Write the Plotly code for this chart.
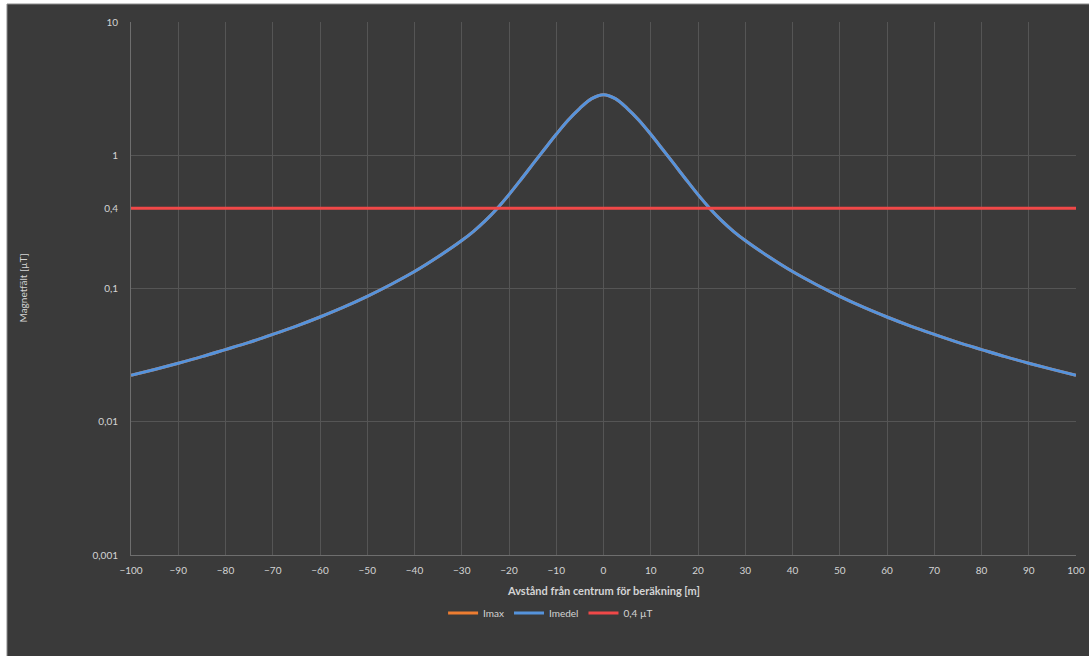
import plotly.graph_objects as go

# Distance from calculation centre [m]
distance = [-100, -95, -90, -85, -80, -75, -70, -65, -60, -55, -50, -45, -40, -35, -30, -27.5, -25, -22.5, -20,
            -17.5, -15, -12.5, -10, -7.5, -5, -2.5,
            0, 2.5, 5, 7.5, 10, 12.5, 15, 17.5, 20, 22.5, 25, 27.5, 30, 35, 40, 45, 50, 55, 60, 65, 70, 75, 80, 85,
            90, 95, 100]

# Imedel magnetic field [µT]
imedel = [0.0223, 0.0247, 0.0275, 0.0308, 0.0348, 0.0394, 0.0452, 0.0522, 0.0611, 0.0724, 0.0873, 0.1072, 0.134,
          0.173, 0.229, 0.2685, 0.323, 0.399, 0.506, 0.655, 0.853, 1.109, 1.436, 1.83, 2.25, 2.66,
          2.85, 2.66, 2.25, 1.83, 1.436, 1.109, 0.853, 0.655, 0.506, 0.399, 0.323, 0.2685, 0.229, 0.173, 0.134,
          0.1072, 0.0873, 0.0724, 0.0611, 0.0522, 0.0452, 0.0394, 0.0348, 0.0308, 0.0275, 0.0247, 0.0223]

# Imax coincides with Imedel (hidden underneath)
imax = list(imedel)

# 0,4 µT limit
limit_x = [-100, 100]
limit_y = [0.4, 0.4]

x_ticks = list(range(-100, 101, 10))
y_tickvals = [0.001, 0.01, 0.1, 0.4, 1, 10]
y_ticktext = ["0,001", "0,01", "0,1", "0,4", "1", "10"]

BG = "#3a3a3a"
GRID = "#555555"
TXT = "#d4d4d4"
FONT = "Lato"

fig = go.Figure()
fig.add_trace(go.Scatter(x=distance, y=imax, mode="lines", name="Imax",
                         line=dict(color="#ed7d31", width=3, shape="spline", smoothing=1.0)))
fig.add_trace(go.Scatter(x=distance, y=imedel, mode="lines", name="Imedel",
                         line=dict(color="#5593dc", width=3, shape="spline", smoothing=1.0)))
fig.add_trace(go.Scatter(x=limit_x, y=limit_y, mode="lines", name="0,4 µT",
                         line=dict(color="#f04848", width=3)))

fig.update_layout(
    width=1089, height=656,
    margin=dict(l=131, r=13, t=22, b=101, autoexpand=False),
    paper_bgcolor="white",
    plot_bgcolor="rgba(0,0,0,0)",
    font=dict(family=FONT, size=10, color=TXT),
    showlegend=True,
    legend=dict(orientation="h", x=0.444, xanchor="center", y=-0.109, yanchor="middle",
                font=dict(size=10, color=TXT), bgcolor="rgba(0,0,0,0)", traceorder="normal",
                itemwidth=30),
    shapes=[dict(type="rect", xref="paper", yref="paper",
                 x0=(7 - 131) / 945, x1=(1089 - 131) / 945 + 0.01,
                 y0=-(656 - 555) / 533 - 0.01, y1=1 + (22 - 4) / 533,
                 fillcolor=BG, line=dict(color="#8a8a8a", width=1), layer="below")],
    annotations=[
        dict(text="Magnetfält [µT]", xref="paper", yref="paper", x=(22 - 131) / 945, y=0.5,
             textangle=-90, showarrow=False, xanchor="center", yanchor="middle",
             font=dict(size=10, color=TXT, family=FONT)),
        dict(text="<b>Avstånd från centrum för beräkning [m]</b>", xref="paper", yref="paper",
             x=0.5, y=-(590 - 555) / 533, showarrow=False, xanchor="center", yanchor="middle",
             font=dict(size=11, color=TXT, family=FONT)),
    ],
)

fig.update_xaxes(range=[-100, 100], tickvals=x_ticks, showgrid=True, gridcolor=GRID, gridwidth=1,
                 zeroline=False, showline=True, linecolor="#6e6e6e", linewidth=1, mirror=False,
                 ticks="", tickfont=dict(size=10, color=TXT), ticklabelstandoff=6, automargin=False)
fig.update_yaxes(type="log", range=[-3, 1], tickvals=y_tickvals, ticktext=y_ticktext,
                 showgrid=True, gridcolor=GRID, gridwidth=1, zeroline=False,
                 showline=True, linecolor="#6e6e6e", linewidth=1,
                 ticks="", tickfont=dict(size=10, color=TXT), ticklabelstandoff=10, automargin=False)

fig.write_html("out.html", config={"displayModeBar": False},
               post_script="document.body.style.margin='0px';document.body.style.overflow='hidden';")
